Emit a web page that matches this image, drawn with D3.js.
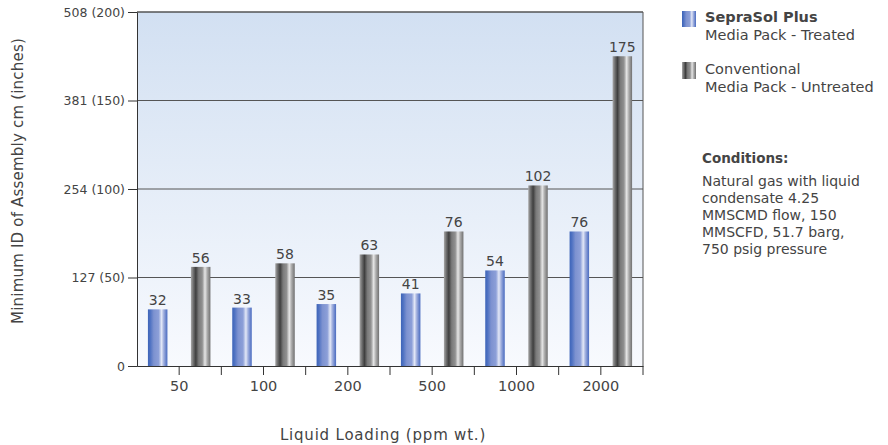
<!DOCTYPE html>
<html>
<head>
<meta charset="utf-8">
<script src="https://cdn.jsdelivr.net/npm/d3@7"></script>
<style>
  body { margin: 0; background: #fff; }
  svg text { font-family: "DejaVu Sans", sans-serif; fill: #444; }
</style>
</head>
<body>
<div id="chart"></div>
<script>
// data
var loadings = ["50", "100", "200", "500", "1000", "2000"];
var treated = [32, 33, 35, 41, 54, 76];      // SepraSol Plus
var untreated = [56, 58, 63, 76, 102, 175];  // Conventional
var yTicks = [0, 50, 100, 150, 200];
var yTickLabels = ["0", "127 (50)", "254 (100)", "381 (150)", "508 (200)"];
var conditions = ["Natural gas with liquid", "condensate 4.25", "MMSCMD flow, 150", "MMSCFD, 51.7 barg,", "750 psig pressure"];

var W = 888, H = 445;
var plot = { left: 137, right: 643, top: 12, bottom: 366 };

var svg = d3.select("#chart").append("svg")
  .attr("width", W).attr("height", H);

var defs = svg.append("defs");

var bg = defs.append("linearGradient").attr("id", "bg")
  .attr("x1", 0).attr("y1", 0).attr("x2", 0).attr("y2", 1);
bg.append("stop").attr("offset", "0%").attr("stop-color", "#d2e0f2");
bg.append("stop").attr("offset", "100%").attr("stop-color", "#f8fafe");

var blue = defs.append("linearGradient").attr("id", "blueBar")
  .attr("x1", 0).attr("y1", 0).attr("x2", 1).attr("y2", 0);
[["0%", "#3d64b8"], ["12%", "#4f72c2"], ["30%", "#7d92d0"], ["55%", "#8c9fd8"],
 ["70%", "#e3e8f7"], ["80%", "#a6b4e0"], ["92%", "#6c86cc"], ["100%", "#4a6cc0"]]
  .forEach(function(s) { blue.append("stop").attr("offset", s[0]).attr("stop-color", s[1]); });

var gray = defs.append("linearGradient").attr("id", "grayBar")
  .attr("x1", 0).attr("y1", 0).attr("x2", 1).attr("y2", 0);
[["0%", "#a8a8a8"], ["12%", "#707070"], ["25%", "#3f3f3f"], ["40%", "#7a7a7a"],
 ["58%", "#909090"], ["72%", "#e6e6e6"], ["84%", "#aaaaaa"], ["100%", "#707070"]]
  .forEach(function(s) { gray.append("stop").attr("offset", s[0]).attr("stop-color", s[1]); });

var x = d3.scaleBand().domain(loadings).range([plot.left, plot.right]);
var y = d3.scaleLinear().domain([0, 200]).range([plot.bottom, plot.top]);

// background
svg.append("rect")
  .attr("x", plot.left).attr("y", plot.top)
  .attr("width", plot.right - plot.left).attr("height", plot.bottom - plot.top)
  .attr("fill", "url(#bg)");

// gridlines
svg.append("g").selectAll("line")
  .data(yTicks.slice(1))
  .enter().append("line")
  .attr("x1", plot.left).attr("x2", plot.right)
  .attr("y1", function(d) { return y(d); }).attr("y2", function(d) { return y(d); })
  .attr("stroke", "#555").attr("stroke-width", 1);

// right border
svg.append("line")
  .attr("x1", plot.right).attr("x2", plot.right)
  .attr("y1", plot.top).attr("y2", plot.bottom)
  .attr("stroke", "#555");

// bars
var barW = 19.5, offs = 21.5;
var rows = loadings.map(function(l, i) { return { cat: l, a: treated[i], b: untreated[i] }; });

var groups = svg.append("g").selectAll("g")
  .data(rows).enter().append("g")
  .attr("transform", function(d) { return "translate(" + (x(d.cat) + x.bandwidth() / 2) + ",0)"; });

groups.append("rect")
  .attr("x", -offs - barW / 2).attr("width", barW)
  .attr("y", function(d) { return y(d.a); })
  .attr("height", function(d) { return plot.bottom - y(d.a); })
  .attr("fill", "url(#blueBar)");

groups.append("rect")
  .attr("x", offs - barW / 2).attr("width", barW)
  .attr("y", function(d) { return y(d.b); })
  .attr("height", function(d) { return plot.bottom - y(d.b); })
  .attr("fill", "url(#grayBar)");

groups.append("text")
  .attr("x", -offs).attr("y", function(d) { return y(d.a) - 4; })
  .attr("text-anchor", "middle").style("font-size", "14px")
  .text(function(d) { return d.a; });

groups.append("text")
  .attr("x", offs).attr("y", function(d) { return y(d.b) - 4; })
  .attr("text-anchor", "middle").style("font-size", "14px")
  .text(function(d) { return d.b; });

// y axis
var yAxis = svg.append("g")
  .attr("transform", "translate(" + plot.left + ",0)")
  .call(d3.axisLeft(y).tickValues(yTicks).tickSize(9).tickPadding(3)
    .tickFormat(function(d, i) { return yTickLabels[i]; }));
yAxis.select(".domain").attr("stroke", "#333");
yAxis.selectAll(".tick line").attr("stroke", "#333");
yAxis.selectAll("text").style("font-size", "12.5px").attr("fill", "#444")
  .style("font-family", "'DejaVu Sans', sans-serif");

// x axis
var xAxis = svg.append("g")
  .attr("transform", "translate(0," + plot.bottom + ")")
  .call(d3.axisBottom(x).tickSize(9).tickSizeOuter(0).tickPadding(6));
xAxis.select(".domain").attr("stroke", "#333");
xAxis.selectAll(".tick line").attr("stroke", "#333");
xAxis.selectAll("text").style("font-size", "14.5px").attr("fill", "#444")
  .style("font-family", "'DejaVu Sans', sans-serif");
xAxis.append("g").selectAll("line")
  .data(loadings.slice(1).concat(["end"]))
  .enter().append("line")
  .attr("x1", function(d) { return d === "end" ? plot.right : x(d); })
  .attr("x2", function(d) { return d === "end" ? plot.right : x(d); })
  .attr("y1", 0).attr("y2", 9)
  .attr("stroke", "#333");

// top border
svg.append("line")
  .attr("x1", plot.left).attr("x2", plot.right)
  .attr("y1", plot.top).attr("y2", plot.top)
  .attr("stroke", "#555");

// axis titles
svg.append("text")
  .attr("transform", "translate(23," + 181 + ") rotate(-90)")
  .attr("text-anchor", "middle").style("font-size", "15px")
  .style("letter-spacing", "0.2px")
  .text("Minimum ID of Assembly cm (inches)");

svg.append("text")
  .attr("x", 383).attr("y", 440)
  .attr("text-anchor", "middle").style("font-size", "15px")
  .style("letter-spacing", "0.8px")
  .text("Liquid Loading (ppm wt.)");

// legend
var legend = svg.append("g");
legend.append("rect").attr("x", 682).attr("y", 11).attr("width", 14).attr("height", 16)
  .attr("fill", "url(#blueBar)");
legend.append("text").attr("x", 705).attr("y", 22).style("font-size", "14.5px")
  .style("font-weight", "bold").attr("fill", "#222").text("SepraSol Plus");
legend.append("text").attr("x", 705).attr("y", 40).style("font-size", "14.5px")
  .attr("fill", "#555").text("Media Pack - Treated");

legend.append("rect").attr("x", 682).attr("y", 62).attr("width", 14).attr("height", 17)
  .attr("fill", "url(#grayBar)");
legend.append("text").attr("x", 705).attr("y", 74).style("font-size", "14.5px")
  .attr("fill", "#555").text("Conventional");
legend.append("text").attr("x", 705).attr("y", 92).style("font-size", "14.5px")
  .attr("fill", "#555").text("Media Pack - Untreated");

legend.append("text").attr("x", 702).attr("y", 163).style("font-size", "13.5px")
  .style("font-weight", "bold").attr("fill", "#222").text("Conditions:");
legend.selectAll(".cond").data(conditions).enter().append("text")
  .attr("class", "cond")
  .attr("x", 702).attr("y", function(d, i) { return 186 + i * 17; })
  .style("font-size", "14px").attr("fill", "#555")
  .text(function(d) { return d; });
</script>
</body>
</html>
